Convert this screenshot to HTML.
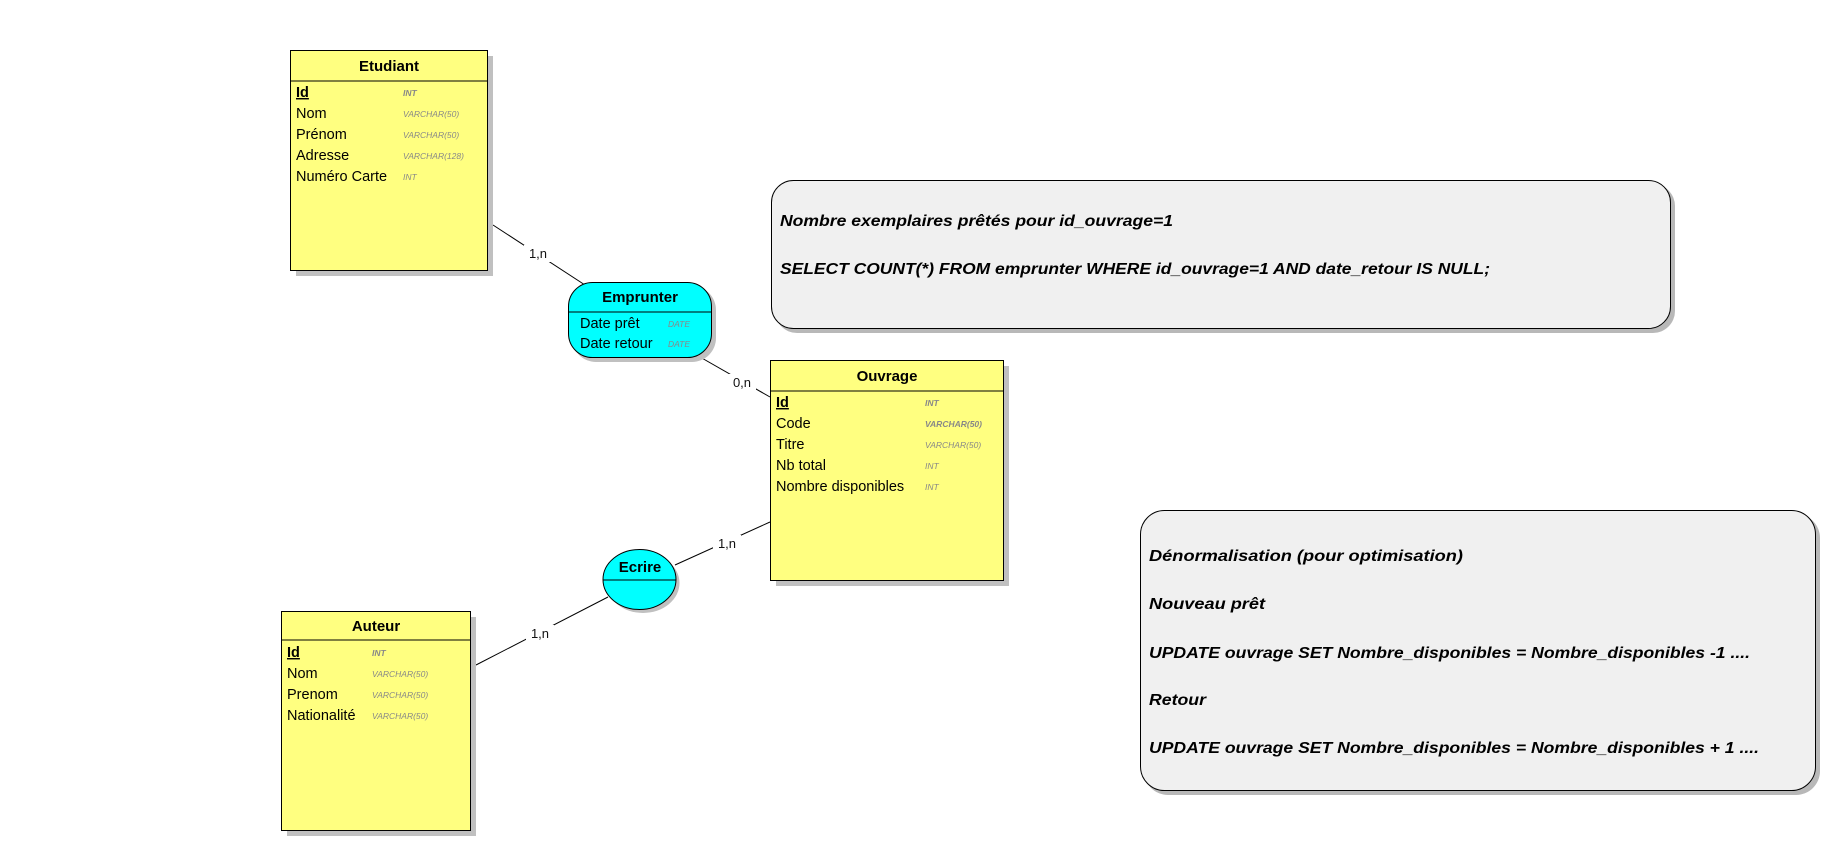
<!DOCTYPE html>
<html><head><meta charset="utf-8"><style>
html,body{margin:0;padding:0;background:#fff;}
svg{display:block;}
text{font-family:"Liberation Sans",sans-serif;}
.a{font-size:14.5px;fill:#000;}
.t{font-size:8.5px;font-style:italic;fill:#888;}
.h{font-size:15px;font-weight:bold;text-anchor:middle;}
.n{font-size:16px;font-weight:bold;font-style:italic;fill:#000;}
.c{font-size:13px;fill:#111;text-anchor:middle;}
</style></head><body>
<svg width="1821" height="841" viewBox="0 0 1821 841">
<g stroke="#000" stroke-width="1">
<line x1="493" y1="225" x2="585" y2="285"/>
<line x1="700" y1="357" x2="770" y2="397"/>
<line x1="770" y1="522" x2="675" y2="565"/>
<line x1="476" y1="665" x2="608" y2="597"/>
</g>
<g>
<rect x="524" y="245" width="28" height="17" fill="#fff"/><text class="c" x="538" y="258">1,n</text>
<rect x="728" y="374" width="28" height="17" fill="#fff"/><text class="c" x="742" y="387">0,n</text>
<rect x="713" y="535" width="28" height="17" fill="#fff"/><text class="c" x="727" y="548">1,n</text>
<rect x="526" y="625" width="28" height="17" fill="#fff"/><text class="c" x="540" y="638">1,n</text>
</g>

<rect x="296" y="56" width="197" height="220" fill="#c0c0c0"/>
<rect x="290.5" y="50.5" width="197" height="220" fill="#ffff80" stroke="#000"/>
<line x1="290" y1="81" x2="487" y2="81" stroke="#000"/>
<text class="h" x="389" y="71">Etudiant</text>
<text class="a" x="296" y="97" font-weight="bold" text-decoration="underline">Id</text><text class="t" x="403" y="96" font-weight="bold">INT</text>
<text class="a" x="296" y="118">Nom</text><text class="t" x="403" y="117">VARCHAR(50)</text>
<text class="a" x="296" y="139">Prénom</text><text class="t" x="403" y="138">VARCHAR(50)</text>
<text class="a" x="296" y="160">Adresse</text><text class="t" x="403" y="159">VARCHAR(128)</text>
<text class="a" x="296" y="181">Numéro Carte</text><text class="t" x="403" y="180">INT</text>

<rect x="572" y="286" width="144" height="76" rx="24" fill="#c0c0c0"/>
<rect x="568.5" y="282.5" width="143" height="75" rx="24" fill="#00ffff" stroke="#000"/>
<line x1="569" y1="312" x2="711" y2="312" stroke="#000"/>
<text class="h" x="640" y="302" font-size="14">Emprunter</text>
<text class="a" x="580" y="328">Date prêt</text><text class="t" x="668" y="327">DATE</text>
<text class="a" x="580" y="348">Date retour</text><text class="t" x="668" y="347">DATE</text>

<rect x="776" y="366" width="233" height="220" fill="#c0c0c0"/>
<rect x="770.5" y="360.5" width="233" height="220" fill="#ffff80" stroke="#000"/>
<line x1="770" y1="391" x2="1003" y2="391" stroke="#000"/>
<text class="h" x="887" y="381">Ouvrage</text>
<text class="a" x="776" y="407" font-weight="bold" text-decoration="underline">Id</text><text class="t" x="925" y="406" font-weight="bold">INT</text>
<text class="a" x="776" y="428">Code</text><text class="t" x="925" y="427" font-weight="bold">VARCHAR(50)</text>
<text class="a" x="776" y="449">Titre</text><text class="t" x="925" y="448">VARCHAR(50)</text>
<text class="a" x="776" y="470">Nb total</text><text class="t" x="925" y="469">INT</text>
<text class="a" x="776" y="491">Nombre disponibles</text><text class="t" x="925" y="490">INT</text>

<ellipse cx="643" cy="583" rx="36.5" ry="30" fill="#c0c0c0"/>
<ellipse cx="639.5" cy="579.5" rx="36.5" ry="30" fill="#00ffff" stroke="#000"/>
<line x1="603" y1="580" x2="676" y2="580" stroke="#000"/>
<text class="h" x="640" y="572" font-size="14">Ecrire</text>

<rect x="287" y="617" width="189" height="219" fill="#c0c0c0"/>
<rect x="281.5" y="611.5" width="189" height="219" fill="#ffff80" stroke="#000"/>
<line x1="281" y1="640" x2="470" y2="640" stroke="#000"/>
<text class="h" x="376" y="631">Auteur</text>
<text class="a" x="287" y="657" font-weight="bold" text-decoration="underline">Id</text><text class="t" x="372" y="656" font-weight="bold">INT</text>
<text class="a" x="287" y="678">Nom</text><text class="t" x="372" y="677">VARCHAR(50)</text>
<text class="a" x="287" y="699">Prenom</text><text class="t" x="372" y="698">VARCHAR(50)</text>
<text class="a" x="287" y="720">Nationalité</text><text class="t" x="372" y="719">VARCHAR(50)</text>

<rect x="775" y="184" width="900" height="149" rx="22" fill="#b8b8b8"/>
<rect x="771.5" y="180.5" width="899" height="148" rx="22" fill="#f0f0f0" stroke="#000"/>
<text class="n" x="780" y="226" textLength="393" lengthAdjust="spacingAndGlyphs">Nombre exemplaires prêtés pour id_ouvrage=1</text>
<text class="n" x="780" y="274" textLength="710" lengthAdjust="spacingAndGlyphs">SELECT COUNT(*)  FROM emprunter WHERE id_ouvrage=1 AND date_retour IS NULL;</text>

<rect x="1144" y="514" width="676" height="281" rx="24" fill="#b8b8b8"/>
<rect x="1140.5" y="510.5" width="675" height="280" rx="24" fill="#f0f0f0" stroke="#000"/>
<text class="n" x="1149" y="561" textLength="314" lengthAdjust="spacingAndGlyphs">Dénormalisation (pour optimisation)</text>
<text class="n" x="1149" y="609" textLength="116" lengthAdjust="spacingAndGlyphs">Nouveau prêt</text>
<text class="n" x="1149" y="658" textLength="601" lengthAdjust="spacingAndGlyphs">UPDATE ouvrage SET Nombre_disponibles = Nombre_disponibles -1 ....</text>
<text class="n" x="1149" y="705" textLength="57" lengthAdjust="spacingAndGlyphs">Retour</text>
<text class="n" x="1149" y="753" textLength="610" lengthAdjust="spacingAndGlyphs">UPDATE ouvrage SET Nombre_disponibles = Nombre_disponibles + 1 ....</text>
</svg>
</body></html>
